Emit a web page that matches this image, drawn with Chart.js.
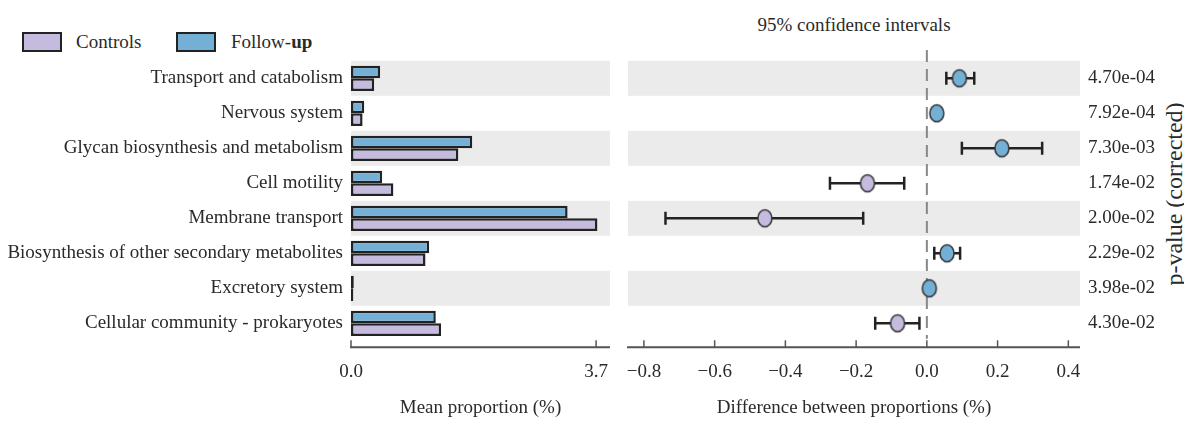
<!DOCTYPE html>
<html>
<head>
<meta charset="utf-8">
<script src="https://cdn.jsdelivr.net/npm/chart.js@4.4.1/dist/chart.umd.min.js"></script>
<style>
  html, body { margin: 0; padding: 0; background: #fff; }
  body { width: 1184px; height: 421px; overflow: hidden; position: relative;
         font-family: 'Liberation Serif', 'Times New Roman', serif; color: #2a2a2a; }
  canvas { position: absolute; top: 0; }
  #meanChart { left: 0; }
  #diffChart { left: 615px; }
  .swatch { position: absolute; top: 32px; width: 40px; height: 20px; box-sizing: border-box;
            border: 2.5px solid #222; }
  .legend-text { position: absolute; top: 31px; font-size: 19px; line-height: 22px; }
  #ciTitle { position: absolute; left: 628px; width: 452px; top: 14px; text-align: center;
             font-size: 19px; line-height: 22px; }
  #pTitle { position: absolute; left: 1174px; top: 194px; font-size: 24px; line-height: 26px;
            white-space: nowrap; transform: translate(-50%, -50%) rotate(-90deg); }
</style>
</head>
<body>
<div class="swatch" style="left:22px;background:#c5bbdf"></div>
<div class="legend-text" style="left:76px">Controls</div>
<div class="swatch" style="left:176px;background:#74b0d6"></div>
<div class="legend-text" style="left:231px">Follow-<b>up</b></div>
<div id="ciTitle">95% confidence intervals</div>
<div id="pTitle">p-value (corrected)</div>
<canvas id="meanChart" width="615" height="421"></canvas>
<canvas id="diffChart" width="569" height="421"></canvas>
<script>
// KEGG level-2 pathways, top to bottom
const categories = [
  'Transport and catabolism',
  'Nervous system',
  'Glycan biosynthesis and metabolism',
  'Cell motility',
  'Membrane transport',
  'Biosynthesis of other secondary metabolites',
  'Excretory system',
  'Cellular community - prokaryotes'
];
// Mean proportion (%) per group
const followUp = [0.44, 0.20, 1.83, 0.47, 3.27, 1.18, 0.042, 1.28];
const controls = [0.35, 0.175, 1.62, 0.64, 3.72, 1.125, 0.035, 1.36];
// Difference between proportions (%) with 95% CI
const diffMean = [0.092, 0.028, 0.212, -0.168, -0.458, 0.057, 0.007, -0.083];
const ciLower  = [0.055, 0.018, 0.099, -0.274, -0.739, 0.021, 0.002, -0.146];
const ciUpper  = [0.134, 0.038, 0.326, -0.064, -0.180, 0.094, 0.012, -0.021];
// Corrected p-values
const pValues = ['4.70e-04', '7.92e-04', '7.30e-03', '1.74e-02', '2.00e-02', '2.29e-02', '3.98e-02', '4.30e-02'];
// Axis ticks
const meanTicks = [0, 3.7];
const diffTicks = [-0.8, -0.6, -0.4, -0.2, 0, 0.2, 0.4];

const BLUE = '#74b0d6';
const PURPLE = '#c5bbdf';
const STRIPE = '#ebebeb';
const INK = '#2a2a2a';

Chart.defaults.font.family = "'Liberation Serif', 'Times New Roman', serif";
Chart.defaults.font.size = 19;
Chart.defaults.color = INK;

// alternating grey row bands
const stripes = {
  id: 'stripes',
  beforeDatasetsDraw(chart) {
    const ctx = chart.ctx, ys = chart.scales.y, { left, right } = chart.chartArea;
    const band = Math.abs(ys.getPixelForValue(1) - ys.getPixelForValue(0));
    ctx.save();
    ctx.fillStyle = STRIPE;
    categories.forEach((c, i) => {
      if (i % 2 === 0) {
        const cy = ys.getPixelForValue(i);
        ctx.fillRect(left, cy - band / 2, right - left, band);
      }
    });
    ctx.restore();
  }
};

// bottom axis line with inward tick marks, set slightly below the rows
const bottomAxis = {
  id: 'bottomAxis',
  afterDraw(chart) {
    const ctx = chart.ctx, xs = chart.scales.x, { left, right, bottom } = chart.chartArea;
    const yAxis = bottom + 6.5;
    ctx.save();
    ctx.strokeStyle = '#555';
    ctx.lineWidth = 2;
    ctx.beginPath();
    ctx.moveTo(left - 1, yAxis);
    ctx.lineTo(right, yAxis);
    ctx.stroke();
    ctx.lineWidth = 1.5;
    xs.ticks.forEach(t => {
      const px = xs.getPixelForValue(t.value);
      ctx.beginPath();
      ctx.moveTo(px, yAxis);
      ctx.lineTo(px, bottom - 0.5);
      ctx.stroke();
    });
    ctx.restore();
  }
};

// dashed zero line and CI whiskers
const whiskers = {
  id: 'whiskers',
  beforeDatasetsDraw(chart) {
    const ctx = chart.ctx, xs = chart.scales.x, ys = chart.scales.y;
    const x0 = xs.getPixelForValue(0);
    ctx.save();
    ctx.strokeStyle = '#888';
    ctx.lineWidth = 2;
    ctx.setLineDash([12, 7]);
    ctx.beginPath();
    ctx.moveTo(x0, 50);
    ctx.lineTo(x0, chart.chartArea.bottom - 2);
    ctx.stroke();
    ctx.setLineDash([]);
    ctx.strokeStyle = '#222';
    ctx.lineWidth = 2.5;
    categories.forEach((c, i) => {
      const cy = ys.getPixelForValue(i);
      const xl = xs.getPixelForValue(ciLower[i]);
      const xh = xs.getPixelForValue(ciUpper[i]);
      ctx.beginPath();
      ctx.moveTo(xl, cy); ctx.lineTo(xh, cy);
      ctx.moveTo(xl, cy - 6.5); ctx.lineTo(xl, cy + 6.5);
      ctx.moveTo(xh, cy - 6.5); ctx.lineTo(xh, cy + 6.5);
      ctx.stroke();
    });
    ctx.restore();
  }
};

function dot(color) {
  const c = document.createElement('canvas');
  c.width = 18; c.height = 22;
  const g = c.getContext('2d');
  g.beginPath();
  g.ellipse(9, 11, 7, 8.5, 0, 0, Math.PI * 2);
  g.fillStyle = color;
  g.fill();
  g.lineWidth = 1.5;
  g.strokeStyle = '#333';
  g.stroke();
  return c;
}
const blueDot = dot(BLUE);
const purpleDot = dot(PURPLE);

const TOP = 60.8, ROWS_H = 280, H = 421;

// keep the plot width fixed: no extra side padding for overhanging tick labels
function fixBottom(s) {
  s.height = H - TOP - ROWS_H;
  s.paddingLeft = 0;
  s.paddingRight = 0;
}

new Chart(document.getElementById('meanChart'), {
  type: 'bar',
  data: {
    labels: categories,
    datasets: [
      { label: 'Follow-up', data: followUp, backgroundColor: BLUE },
      { label: 'Controls', data: controls, backgroundColor: PURPLE }
    ]
  },
  options: {
    indexAxis: 'y',
    responsive: false,
    animation: false,
    events: [],
    datasets: { bar: { borderColor: '#222', borderWidth: 2.5, borderSkipped: false,
                       categoryPercentage: 0.72, barPercentage: 1 } },
    layout: { padding: { top: TOP, right: 5, left: 0, bottom: 0 } },
    plugins: { legend: { display: false }, tooltip: { enabled: false } },
    scales: {
      y: {
        type: 'category', offset: true,
        grid: { display: false, drawTicks: false }, border: { display: false },
        ticks: { padding: 8, color: INK },
        afterFit(s) { s.width = 351; }
      },
      x: {
        type: 'linear', min: 0, max: 3.91,
        grid: { display: false, drawTicks: false }, border: { display: false },
        afterBuildTicks(s) { s.ticks = meanTicks.map(v => ({ value: v })); },
        ticks: { padding: 20, color: INK, maxRotation: 0, callback: v => Number(v).toFixed(1) },
        title: { display: true, text: 'Mean proportion (%)', color: INK, padding: { top: 0, bottom: 2 } },
        afterFit: fixBottom
      }
    }
  },
  plugins: [stripes, bottomAxis]
});

new Chart(document.getElementById('diffChart'), {
  type: 'scatter',
  data: {
    datasets: [{
      label: 'Difference',
      data: categories.map((c, i) => ({ x: diffMean[i], y: c })),
      pointStyle: ctx => (diffMean[ctx.dataIndex] > 0 ? blueDot : purpleDot),
      pointRadius: 8
    }]
  },
  options: {
    responsive: false,
    animation: false,
    events: [],
    layout: { padding: { top: TOP, left: 13, right: 0, bottom: 0 } },
    plugins: { legend: { display: false }, tooltip: { enabled: false } },
    scales: {
      y: {
        type: 'category', labels: categories, offset: true, display: false
      },
      p: {
        type: 'category', axis: 'y', position: 'right', labels: pValues, offset: true,
        grid: { display: false, drawTicks: false }, border: { display: false },
        ticks: { padding: 8, color: INK },
        afterFit(s) { s.width = 104; }
      },
      x: {
        type: 'linear', min: -0.845, max: 0.433,
        grid: { display: false, drawTicks: false }, border: { display: false },
        afterBuildTicks(s) { s.ticks = diffTicks.map(v => ({ value: v })); },
        ticks: { padding: 20, color: INK, maxRotation: 0,
                 callback: v => (v < -1e-9 ? '\u2212' + Math.abs(v).toFixed(1) : Math.abs(v).toFixed(1)) },
        title: { display: true, text: 'Difference between proportions (%)', color: INK, padding: { top: 0, bottom: 2 } },
        afterFit: fixBottom
      }
    }
  },
  plugins: [stripes, whiskers, bottomAxis]
});
</script>
</body>
</html>
